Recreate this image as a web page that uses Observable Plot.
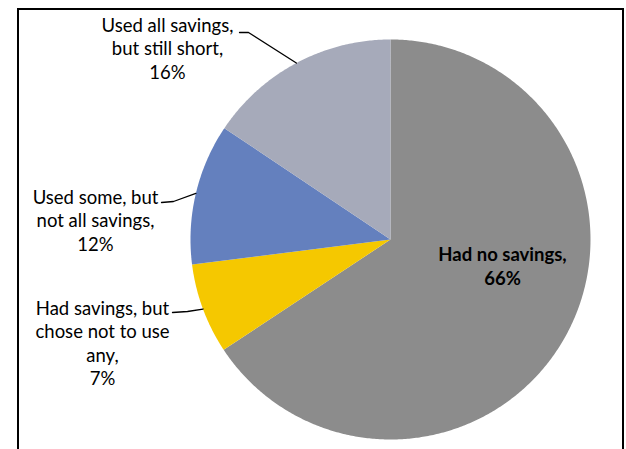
<!DOCTYPE html>
<html><head><meta charset="utf-8">
<script src="https://cdn.jsdelivr.net/npm/d3@7"></script>
<script src="https://cdn.jsdelivr.net/npm/@observablehq/plot@0.6"></script>
<style>
html,body{margin:0;padding:0;background:#fff;overflow:hidden;width:626px;height:449px}
#wrap{position:relative;width:626px;height:449px}
#frame{position:absolute;left:17px;top:8px;width:603px;height:480px;border:2px solid #000;pointer-events:none}
</style></head>
<body><div id="wrap"><div id="frame"></div></div>
<script>
// Data (clockwise from 12 o'clock)
const categories = ["Had no savings", "Had savings, but chose not to use any", "Used some, but not all savings", "Used all savings, but still short"];
const values = [65.7, 7.3, 11.4, 15.6];
const labels = ["Had no savings,\n66%", "Had savings, but\nchose not to use\nany,\n7%", "Used some, but\nnot all savings,\n12%", "Used all savings,\nbut still short,\n16%"];
const colors = ["#8c8c8c", "#f5c800", "#6480be", "#a6aaba"];

// Layout
const W = 626, H = 449, cx = 390, cy = 239, R = 200;
const px = x => (x - cx) / R, py = y => (cy - y) / R;
// label block centres (pixels) and leader text-end / elbow points
const labelPos = [[502, 265], [102, 342], [95, 219], [167, 47]];
const leaderPts = [null, [[172, 312], [187, 311]], [[161, 202], [173, 201]], [[239, 32], [248, 32]]];

const total = d3.sum(values);
const slices = [];
let acc = 0;
values.forEach((v, i) => {
  const a0 = acc / total * 2 * Math.PI, a1 = (acc + v) / total * 2 * Math.PI;
  acc += v;
  slices.push({cat: categories[i], a0, a1, mid: (a0 + a1) / 2});
});

const polys = [];
slices.forEach(s => {
  polys.push({cat: s.cat, x: 0, y: 0});
  const n = Math.max(2, Math.ceil((s.a1 - s.a0) / (Math.PI / 360)));
  for (let k = 0; k <= n; k++) {
    const a = s.a0 + (s.a1 - s.a0) * k / n;
    polys.push({cat: s.cat, x: Math.sin(a), y: Math.cos(a)});
  }
  polys.push({cat: s.cat, x: 0, y: 0});
});

const leaders = [];
slices.forEach((s, i) => {
  if (!leaderPts[i]) return;
  const [t, e] = leaderPts[i];
  leaders.push({i, x: px(t[0]), y: py(t[1])});
  leaders.push({i, x: px(e[0]), y: py(e[1])});
  leaders.push({i, x: Math.sin(s.mid), y: Math.cos(s.mid)});
});

const textData = labels.map((l, i) => ({label: l, x: px(labelPos[i][0]), y: py(labelPos[i][1]), bold: i === 0}));

const chart = Plot.plot({
  width: W, height: H,
  marginLeft: cx - R, marginRight: W - (cx + R),
  marginTop: cy - R, marginBottom: H - (cy + R),
  x: {domain: [-1, 1], axis: null},
  y: {domain: [-1, 1], axis: null},
  color: {domain: categories, range: colors},
  style: {fontFamily: "Lato, 'Open Sans', sans-serif", background: "transparent"},
  marks: [
    Plot.line(polys, {x: "x", y: "y", z: "cat", fill: "cat", stroke: null, curve: "linear"}),
    Plot.line(leaders, {x: "x", y: "y", z: "i", stroke: "#000", strokeWidth: 1.3}),
    Plot.text(textData.filter(d => !d.bold), {x: "x", y: "y", text: "label", fontSize: 18.5, lineHeight: 1.27, fill: "#000", textAnchor: "middle", lineAnchor: "middle"}),
    Plot.text(textData.filter(d => d.bold), {x: "x", y: "y", text: "label", fontSize: 18.5, fontWeight: "bold", lineHeight: 1.27, fill: "#000", textAnchor: "middle", lineAnchor: "middle"})
  ]
});
chart.style.position = "absolute";
chart.style.left = "0";
chart.style.top = "0";
document.getElementById("wrap").appendChild(chart);
</script>
</body></html>
